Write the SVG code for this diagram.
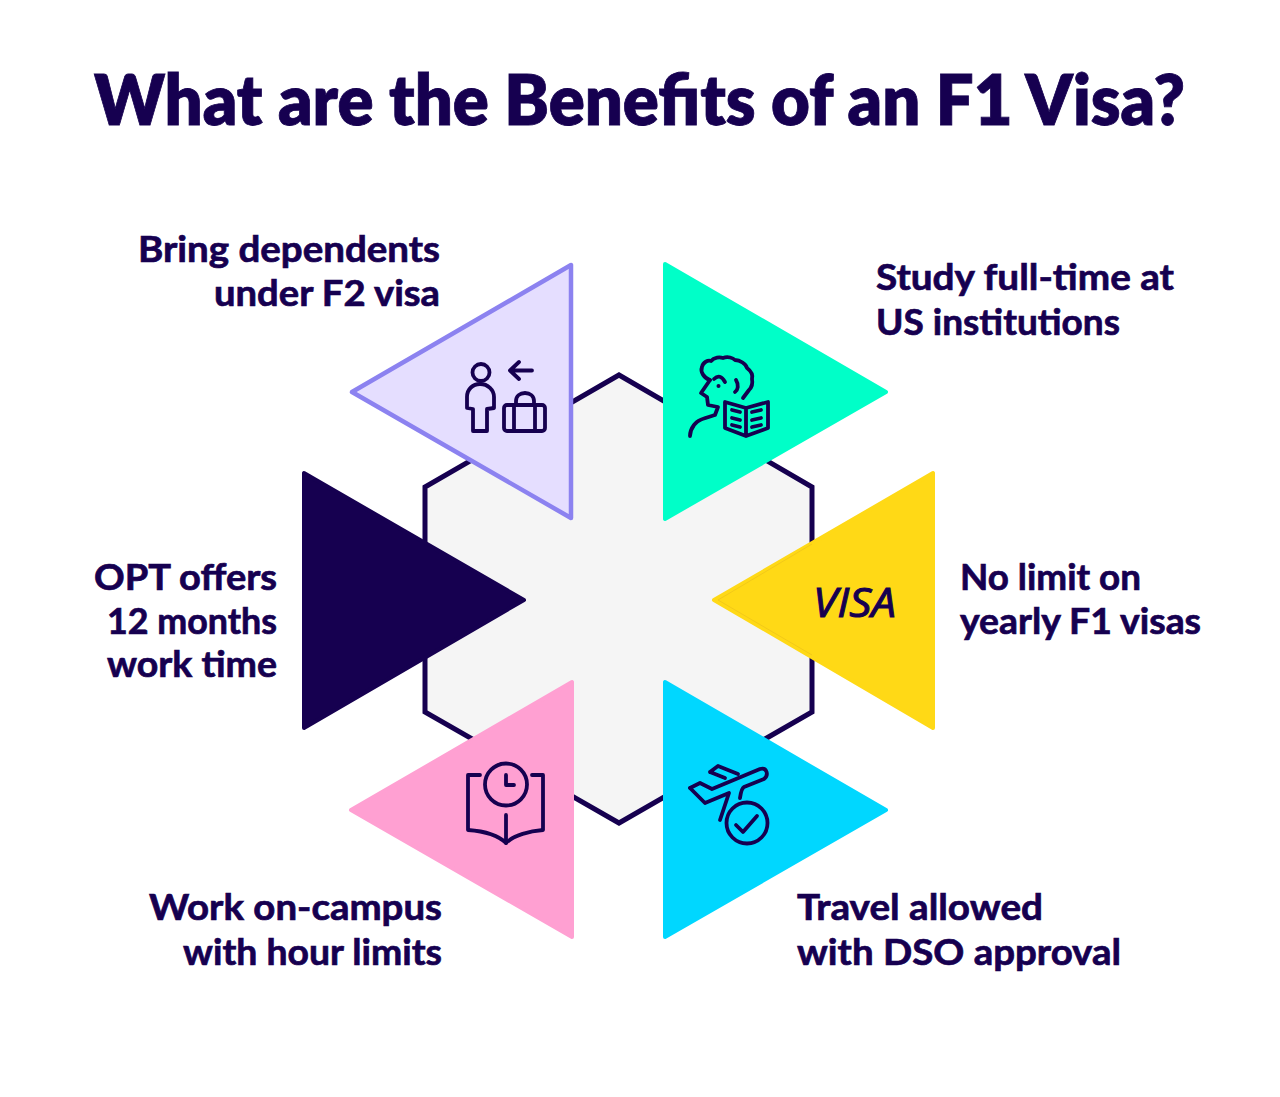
<svg xmlns="http://www.w3.org/2000/svg" width="1280" height="1097" viewBox="0 0 1280 1097">
<style>
text{font-family:"Lato","Liberation Sans",sans-serif;font-weight:700;fill:#160050;stroke:#160050;stroke-width:.7px;font-size:37px}
.title{font-size:70px;font-weight:800;stroke-width:.8px}
.tri{stroke-linejoin:round;stroke-width:4}
.ic{fill:none;stroke:#160050;stroke-width:3.8;stroke-linecap:round;stroke-linejoin:round}
</style>
<rect width="1280" height="1097" fill="#fff"/>
<text class="title" x="94" y="125" textLength="1091" lengthAdjust="spacingAndGlyphs">What are the Benefits of an F1 Visa?</text>
<g id="hexagon"><polygon points="619,375 812,487 812,712 619,823 425,712 425,487" fill="#f5f5f5" stroke="#160050" stroke-width="5" stroke-linejoin="miter"/></g>
<g id="node-dependents">
<polygon class="tri" points="571,265 571,518 352,392" fill="#e5deff" stroke="#8c82f0" style="stroke-width:4.500"/>
<g class="ic">
<circle cx="481" cy="372.500" r="8.500"/>
<path d="M467,408V397C467,389 473,384 480,384C488,384 494,390 494,397V408L487,409V431H473V409Z"/>
<path d="M510,370.500H532M519,362L510,370.500L519,379"/>
<rect x="504" y="405" width="41" height="26" rx="3"/>
<path d="M514,405V431M535,405V431M516,405V401C516,396 520,393 525,393C530,393 534,396 534,401V405"/>
</g>
<text x="138" y="262" textLength="302" lengthAdjust="spacingAndGlyphs">Bring dependents</text>
<text x="214" y="306" textLength="226" lengthAdjust="spacingAndGlyphs">under F2 visa</text>
</g>
<g id="node-study">
<polygon class="tri" points="665,264 886,392 665,519" fill="#00ffc8" stroke="#00ffc8"/>
<g class="ic">
<path d="M710,380C704,378 700,372 702,367C703,362 708,360 711,361C714,357 720,357 723,358C728,356 733,358 735,360C740,360 746,364 747,368C751,371 753,375 752,379C753,384 751,388 749,390L743,398"/>
<path d="M710,380L701,393L707,397L708,405L718,407L715,415C705,418 697,420 694,425C691,429 690,432 690,436"/>
<path d="M714,379Q720,373 725,382"/>
<path d="M736,380C739,385 738,390 735,392"/>
<path d="M725,402L746,408L768,402V428L746,436L725,428ZM746,408V436"/>
<path d="M732,410L740,412M732,418L740,420M732,425L740,427M752,412L761,410M752,420L761,418M752,427L761,425"/>
</g>
<circle cx="718.500" cy="386" r="2" fill="#160050"/>
<text x="876" y="290" textLength="298" lengthAdjust="spacingAndGlyphs">Study full-time at</text>
<text x="876" y="335" textLength="244" lengthAdjust="spacingAndGlyphs">US institutions</text>
</g>
<g id="node-visa">
<polygon class="tri" points="933,473 933,728 714,600" fill="#ffd916" stroke="#ffd916"/>
<path d="M812,544L718,600L812,655" fill="none" stroke="#f2c91a" stroke-width="1"/>
<text x="813" y="617" textLength="83" lengthAdjust="spacingAndGlyphs" style="font-family:'Open Sans',sans-serif;font-style:italic;font-weight:400;font-size:41px;stroke-width:1px">VISA</text>
<text x="960" y="590" textLength="181" lengthAdjust="spacingAndGlyphs">No limit on</text>
<text x="960" y="634" textLength="241" lengthAdjust="spacingAndGlyphs">yearly F1 visas</text>
</g>
<g id="node-opt">
<polygon class="tri" points="304,473 304,728 524,600" fill="#160050" stroke="#160050"/>
<text x="94" y="590" textLength="183" lengthAdjust="spacingAndGlyphs">OPT offers</text>
<text x="107" y="634" textLength="170" lengthAdjust="spacingAndGlyphs">12 months</text>
<text x="107" y="677" textLength="170" lengthAdjust="spacingAndGlyphs">work time</text>
</g>
<g id="node-campus">
<polygon class="tri" points="572,682 572,937 351,810" fill="#ffa0d2" stroke="#ffa0d2"/>
<g class="ic">
<circle cx="506" cy="784.500" r="21"/>
<path d="M506,775V785H514"/>
<path d="M480,775H468V830C482,831 498,835 506,843C514,835 530,831 543,830V775H532"/>
<path d="M506,815V843"/>
</g>
<text x="149" y="920" textLength="293" lengthAdjust="spacingAndGlyphs">Work on-campus</text>
<text x="183" y="965" textLength="259" lengthAdjust="spacingAndGlyphs">with hour limits</text>
</g>
<g id="node-travel">
<polygon class="tri" points="665,682 665,937 886,810" fill="#00d7ff" stroke="#00d7ff"/>
<g class="ic">
<path d="M690,788L700,783L712,789L760,769C767,767 769,775 764,779L744,787C742,788 741,791 740,798"/>
<path d="M690,788L705,803L729,793L720,820"/>
<path d="M710,772L718,766L738,774M710,772L725,778"/>
<circle cx="747" cy="823" r="20.500"/>
<path d="M736,825L743,832L757,816"/>
</g>
<text x="797" y="920" textLength="246" lengthAdjust="spacingAndGlyphs">Travel allowed</text>
<text x="797" y="965" textLength="324" lengthAdjust="spacingAndGlyphs">with DSO approval</text>
</g>
</svg>
